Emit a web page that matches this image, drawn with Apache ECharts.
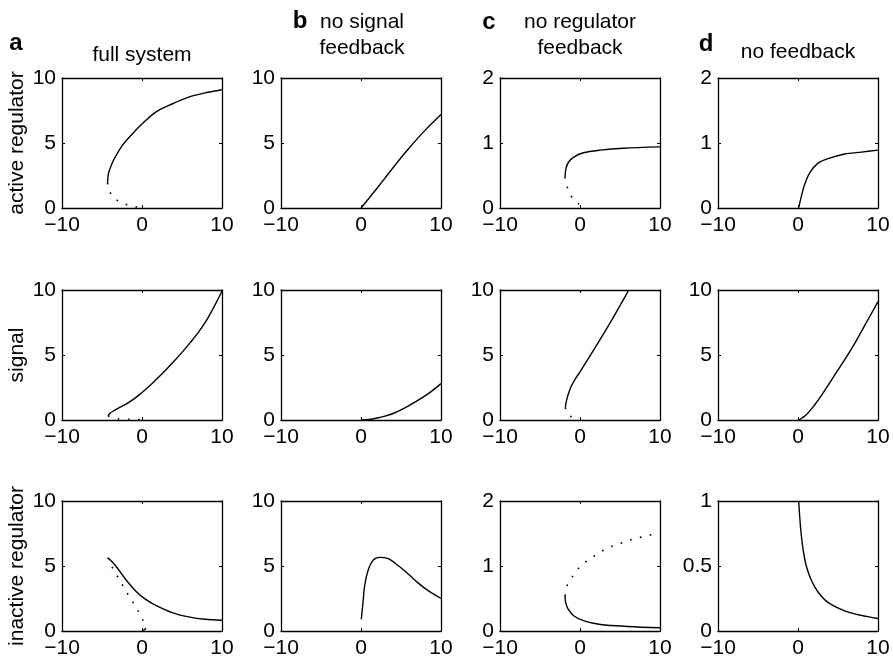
<!DOCTYPE html>
<html>
<head>
<meta charset="utf-8">
<script src="https://cdn.jsdelivr.net/npm/echarts@6/dist/echarts.min.js"></script>
<style>
  html, body { margin: 0; padding: 0; background: #fff; }
  #chart { width: 893px; height: 659px; }
</style>
</head>
<body>
<div id="chart"></div>
<script>
// x axis is the same for every panel
const xTicks = [-10, 0, 10];

// row 1: active regulator
const a1Stable = [[-4.3, 1.94], [-4.25, 2.4], [-4.17, 2.71], [-3.9, 3.2], [-3.54, 3.7], [-2.5, 4.78], [-1.25, 5.68], [0, 6.46], [1.67, 7.36], [3.75, 8.0], [5.83, 8.53], [7.9, 8.86], [10, 9.1]];
const a1Unstable = [[-4.3, 1.94], [-4.25, 1.6], [-3.63, 0.85], [-2.5, 0.39], [-1.17, 0.13], [0, 0.02]];
const b1Stable = [[0, 0], [1, 0.75], [2, 1.52], [3, 2.3], [4, 3.1], [5, 3.87], [6, 4.6], [7, 5.3], [8, 5.97], [9, 6.6], [10, 7.2]];
const c1Stable = [[-1.875, 0.48], [-1.75, 0.61], [-1.46, 0.70], [-0.83, 0.78], [0.42, 0.85], [2.5, 0.89], [5.4, 0.92], [10, 0.94]];
const c1Unstable = [[-1.875, 0.48], [-1.8, 0.4], [-1.46, 0.28], [-0.83, 0.13], [0, 0.05]];
const d1Stable = [[0.08, 0], [0.42, 0.18], [0.83, 0.36], [1.46, 0.54], [2.5, 0.69], [3.75, 0.76], [5.83, 0.83], [7.9, 0.86], [10, 0.89]];

// row 2: signal
const a2Stable = [[-4.25, 0.31], [-4.0, 0.52], [-3.5, 0.72], [-3, 0.9], [-2, 1.22], [-1, 1.62], [0, 2.12], [1, 2.66], [2, 3.25], [3, 3.87], [4, 4.52], [5, 5.2], [6, 5.93], [7, 6.7], [8, 7.6], [9, 8.7], [10, 9.9]];
const a2Unstable = [[-4.25, 0.31], [-3, 0.1], [-1.5, 0.05], [0, 0.02]];
const b2Stable = [[0, 0], [1, 0.04], [2, 0.15], [3, 0.3], [4, 0.5], [5, 0.78], [6, 1.1], [7, 1.47], [8, 1.85], [9, 2.3], [10, 2.8]];
const c2Stable = [[-1.83, 0.95], [-1.75, 1.3], [-1.6, 1.7], [-1.4, 2.1], [-1.1, 2.6], [-0.6, 3.15], [0, 3.7], [1, 4.68], [2, 5.68], [3, 6.68], [4, 7.72], [5, 8.8], [6.1, 10]];
const c2Unstable = [[-1.83, 0.95], [-1.6, 0.55], [-1.25, 0.3], [0, 0.05]];
const d2Stable = [[0.1, 0], [1, 0.38], [2, 1.1], [3, 1.95], [4, 2.9], [5, 3.85], [6, 4.8], [7, 5.8], [8, 6.9], [9, 8.0], [10, 9.1]];

// row 3: inactive regulator
const a3Stable = [[-4.25, 5.63], [-3.33, 5.04], [-2.08, 4.0], [-0.83, 3.1], [0.42, 2.45], [1.67, 1.99], [3.75, 1.42], [5.83, 1.09], [7.9, 0.9], [10, 0.83]];
const a3Unstable = [[-4.25, 5.63], [-3.96, 5.17], [-3.33, 4.47], [-2.63, 3.75], [-1.96, 3.02], [-1.25, 2.33], [-0.58, 1.63], [0.08, 0.9], [0.15, 0.3]];
const a3Stub = [[0.1, 0.02], [0.5, 0.2]];
const b3Stable = [[0.04, 0.9], [0.25, 2.2], [0.46, 3.5], [0.88, 4.65], [1.5, 5.43], [2.33, 5.66], [3.4, 5.56], [4.63, 5.04], [5.9, 4.39], [7.13, 3.7], [8.4, 3.1], [10, 2.5]];
const c3Stable = [[-1.875, 0.54], [-1.79, 0.44], [-1.5, 0.34], [-0.75, 0.23], [0.5, 0.155], [2.58, 0.10], [5.9, 0.07], [10, 0.05]];
const c3Unstable = [[-1.875, 0.54], [-1.83, 0.56], [-1.58, 0.71], [-0.875, 0.85], [0, 0.99], [1.125, 1.10], [2.25, 1.19], [3.5, 1.28], [4.67, 1.33], [5.9, 1.385], [7.17, 1.43], [8.5, 1.47], [10, 1.51]];
const d3Stable = [[0.08, 1.0], [0.33, 0.79], [0.63, 0.63], [1.04, 0.5], [1.67, 0.39], [2.5, 0.30], [3.75, 0.22], [5.83, 0.155], [7.9, 0.12], [10, 0.096]];

// y ranges [max, interval] per row / column
const yMax = [[10, 10, 2, 2], [10, 10, 10, 10], [10, 10, 2, 1]];
const yStep = [[5, 5, 1, 1], [5, 5, 5, 5], [5, 5, 1, 0.5]];
const rowNames = ['active regulator', 'signal', 'inactive regulator'];

// panel curves: solid = stable, dotted = unstable
const panels = [
  [{ solid: [a1Stable], dotted: [a1Unstable] }, { solid: [b1Stable], dotted: [] }, { solid: [c1Stable], dotted: [c1Unstable] }, { solid: [d1Stable], dotted: [] }],
  [{ solid: [a2Stable], dotted: [a2Unstable] }, { solid: [b2Stable], dotted: [] }, { solid: [c2Stable], dotted: [c2Unstable] }, { solid: [d2Stable], dotted: [] }],
  [{ solid: [a3Stable, a3Stub], dotted: [a3Unstable] }, { solid: [b3Stable], dotted: [] }, { solid: [c3Stable], dotted: [c3Unstable] }, { solid: [d3Stable], dotted: [] }]
];

const lefts = [62, 281, 500, 718];
const tops = [78, 290, 501];
const W = 160, H = 130;
const FONT = "'Liberation Sans', Arial, sans-serif";

const fmt = v => String(v).replace('-', '\u2212');

const grid = [], xAxis = [], yAxis = [], series = [];
let g = 0;
for (let r = 0; r < 3; r++) {
  for (let c = 0; c < 4; c++) {
    grid.push({ left: lefts[c], top: tops[r], width: W, height: H });
    const axLine = { show: true, onZero: false, lineStyle: { color: '#000', width: 1.3 } };
    const tick = { show: true, inside: true, length: 3, lineStyle: { color: '#000' } };
    const xBase = { type: 'value', gridIndex: g, min: xTicks[0], max: xTicks[2], interval: 10, splitLine: { show: false }, axisLine: axLine, axisTick: tick };
    xAxis.push(Object.assign({}, xBase, { position: 'bottom',
      axisLabel: { color: '#000', fontSize: 21, fontFamily: FONT, margin: 7, formatter: fmt } }));
    xAxis.push(Object.assign({}, xBase, { position: 'top', axisLabel: { show: false } }));
    const yBase = { type: 'value', gridIndex: g, min: 0, max: yMax[r][c], interval: yStep[r][c], splitLine: { show: false }, axisLine: axLine, axisTick: tick };
    const yl = Object.assign({}, yBase, { position: 'left',
      axisLabel: { color: '#000', fontSize: 21, fontFamily: FONT, margin: 6, formatter: fmt } });
    if (c === 0) {
      yl.name = rowNames[r];
      yl.nameLocation = 'middle';
      yl.nameGap = 34;
      yl.nameTextStyle = { color: '#000', fontSize: 21, fontFamily: FONT };
    }
    yAxis.push(yl);
    yAxis.push(Object.assign({}, yBase, { position: 'right', axisLabel: { show: false } }));

    const p = panels[r][c];
    p.solid.forEach(d => series.push({
      type: 'line', xAxisIndex: 2 * g, yAxisIndex: 2 * g, data: d, showSymbol: false, smooth: 0.3,
      lineStyle: { color: '#000', width: 1.4 }
    }));
    p.dotted.forEach(d => series.push({
      type: 'line', xAxisIndex: 2 * g, yAxisIndex: 2 * g, data: d, showSymbol: false, smooth: 0.3,
      lineStyle: { color: '#000', width: 1.6, type: [1.6, 8.5] }
    }));
    g++;
  }
}

const t = (text, x, y, bold) => ({
  type: 'text', x: x, y: y,
  style: { text: text, fill: '#000', font: (bold ? 'bold 24px ' : '21px ') + FONT, textAlign: 'center', textVerticalAlign: 'middle' }
});

const chart = echarts.init(document.getElementById('chart'));
chart.setOption({
  animation: false,
  backgroundColor: '#fff',
  grid: grid,
  xAxis: xAxis,
  yAxis: yAxis,
  series: series,
  graphic: [
    t('a', 16, 43, true),
    t('full system', 142, 55),
    t('b', 300, 21, true),
    t('no signal', 362, 22),
    t('feedback', 362, 48),
    t('c', 489, 22, true),
    t('no regulator', 580, 22),
    t('feedback', 580, 48),
    t('d', 706, 44, true),
    t('no feedback', 798, 52)
  ]
});
</script>
</body>
</html>
